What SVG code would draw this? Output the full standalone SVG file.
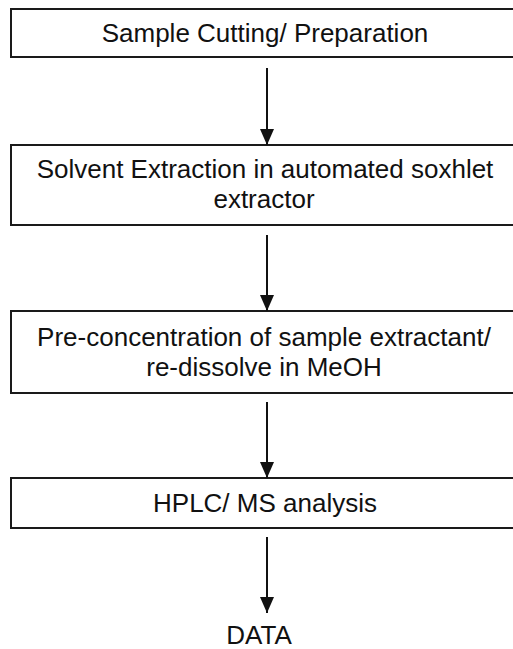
<svg xmlns="http://www.w3.org/2000/svg" width="513" height="649" viewBox="0 0 513 649">
<style>
.box{fill:#fff;stroke:#1a1a1a;stroke-width:2}
.t{font-family:"Liberation Sans",Arial,sans-serif;font-size:26px;fill:#111;text-anchor:middle}
.c{stroke:#111;stroke-width:2;fill:none}
</style>
<defs>
<marker id="ah" markerWidth="16" markerHeight="14" refX="16" refY="7" orient="auto" markerUnits="userSpaceOnUse" viewBox="0 0 16 14">
<path d="M0,0 L16,7 L0,14 Z" fill="#111"/>
</marker>
</defs>
<rect width="513" height="649" fill="#fff"/>
<g id="n1"><rect class="box" x="11" y="9" width="512" height="48"/><text class="t" x="265" y="42">Sample Cutting/ Preparation</text></g>
<g id="n2"><rect class="box" x="11" y="145" width="512" height="80"/><text class="t" x="265" y="178">Solvent Extraction in automated soxhlet</text><text class="t" x="264" y="208">extractor</text></g>
<g id="n3"><rect class="box" x="11" y="311" width="512" height="82"/><text class="t" x="264" y="346">Pre-concentration of sample extractant/</text><text class="t" x="264" y="376">re-dissolve in MeOH</text></g>
<g id="n4"><rect class="box" x="11" y="478" width="512" height="50"/><text class="t" x="265" y="512">HPLC/ MS analysis</text></g>
<g id="n5"><text class="t" x="259" y="644">DATA</text></g>
<g id="connectors">
<line class="c" x1="267" y1="68" x2="267" y2="145" marker-end="url(#ah)"/>
<line class="c" x1="267" y1="235" x2="267" y2="311" marker-end="url(#ah)"/>
<line class="c" x1="267" y1="402" x2="267" y2="478" marker-end="url(#ah)"/>
<line class="c" x1="267" y1="537" x2="267" y2="613" marker-end="url(#ah)"/>
</g>
</svg>
